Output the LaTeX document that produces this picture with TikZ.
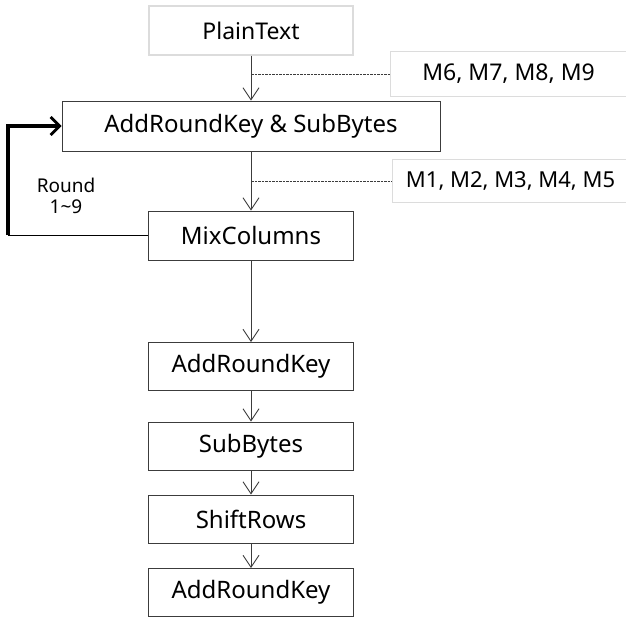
\documentclass[tikz,border=0pt]{standalone}
\usepackage{fontspec}
\setmainfont{Noto Sans}
\usetikzlibrary{arrows.meta,calc}
\definecolor{boxline}{HTML}{3C3C3C}
\definecolor{softline}{HTML}{DCDCDC}
\tikzset{
  stage/.style={draw=boxline,line width=0.9pt,fill=white,inner sep=0pt,font=\fontsize{24}{28}\selectfont},
  plainbox/.style={draw=softline,line width=1.1pt,fill=white,inner sep=0pt,font=\fontsize{23}{27}\selectfont},
  flow/.style={draw=boxline,line width=0.9pt,-{Straight Barb[length=12pt,width=16pt,line width=0.9pt]}},
  tap/.style={draw=boxline,line width=0.6pt,dash pattern=on 2.5pt off 1pt},
  loop/.style={draw=black,line width=3.2pt,-{Straight Barb[length=9pt,width=18pt,line width=2.8pt]}},
}
\begin{document}
\begin{tikzpicture}[x=1pt,y=-1pt]
\useasboundingbox (0,0) rectangle (626,619);
% boxes: corners in picture units
\node[plainbox,minimum width=204pt,minimum height=49pt] (plain) at (251,30.5) {PlainText};
\node[plainbox,minimum width=240pt,minimum height=45pt,anchor=north west] (mb) at (390,51) {\hspace*{-4pt}M6, M7, M8, M9};
\node[stage,minimum width=378pt,minimum height=50pt] (ark1) at (251,126) {AddRoundKey \& SubBytes};
\node[plainbox,minimum width=238pt,minimum height=43pt,anchor=north west] (ma) at (392,159) {\hspace*{-2pt}\fontsize{22}{26}\selectfont M1, M2, M3, M4, M5};
\node[stage,minimum width=205pt,minimum height=49pt] (mix) at (251,235.5) {MixColumns};
\node[stage,minimum width=205pt,minimum height=48pt] (ark2) at (251,366.5) {AddRoundKey};
\node[stage,minimum width=205pt,minimum height=48pt] (sub) at (251,446) {SubBytes};
\node[stage,minimum width=205pt,minimum height=48pt] (shift) at (251,519) {ShiftRows};
\node[stage,minimum width=205pt,minimum height=48pt] (ark3) at (251,592.5) {AddRoundKey};
\node[font=\fontsize{19}{23}\selectfont,align=center] (rnd) at (66,196) {Round\\[-2pt]1\textasciitilde 9};

% main flow
\draw[flow] (plain) -- (ark1);
\draw[flow] (ark1) -- (mix);
\draw[flow] (mix) -- (ark2);
\draw[flow] (ark2) -- (sub);
\draw[flow] (sub) -- (shift);
\draw[flow] (shift) -- (ark3);

% measurement taps
\coordinate (tapA) at (plain.south |- mb.west);
\coordinate (tapB) at (ark1.south |- ma.west);
\draw[tap] (tapA) -- (mb.west);
\draw[tap] (tapB) -- (ma.west);

% round loop
\coordinate (corner) at (8,235.5);
\draw[draw=black,line width=1.1pt] (mix.west) -- (corner);
\draw[loop] ([yshift=0.5pt]corner) |- (ark1.west);
\end{tikzpicture}
\end{document}
